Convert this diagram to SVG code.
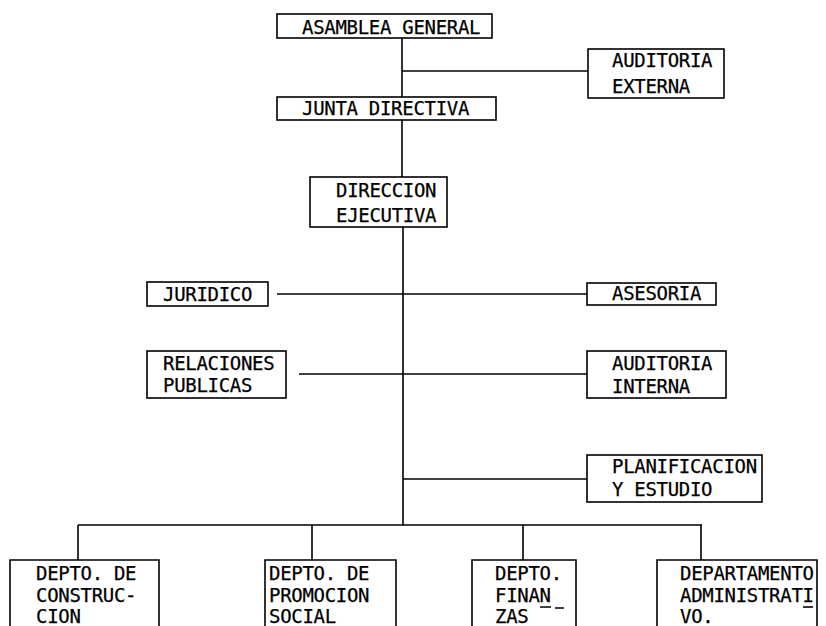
<svg xmlns="http://www.w3.org/2000/svg" width="826" height="626" viewBox="0 0 826 626">
<style>
.box{fill:none;stroke:#000;stroke-width:1.6}
.ln{fill:none;stroke:#000;stroke-width:1.6}
.t{font-family:"DejaVu Sans Mono","Liberation Mono",monospace;font-size:19px;letter-spacing:-0.3px;fill:#000;stroke:#000;stroke-width:0.25}
</style>
<rect width="826" height="626" fill="#fff"/>
<g id="connectors">
<path class="ln" d="M402,38V97M402,71H588M402,120V177M403,227V525M277,294H587M299,374H587M403,479H587M78,525H702M78,525V560M312,525V560M523,525V560M701,525V560"/>
</g>
<g id="asamblea"><rect class="box" x="277" y="14" width="215" height="24"/><text class="t" x="302" y="34">ASAMBLEA GENERAL</text></g>
<g id="auditoria-externa"><rect class="box" x="588" y="49" width="136" height="49"/><text class="t" x="612" y="67">AUDITORIA</text><text class="t" x="612" y="93">EXTERNA</text></g>
<g id="junta"><rect class="box" x="277" y="97" width="219" height="23"/><text class="t" x="302" y="115">JUNTA DIRECTIVA</text></g>
<g id="direccion"><rect class="box" x="310" y="177" width="137" height="50"/><text class="t" x="336" y="197">DIRECCION</text><text class="t" x="336" y="222">EJECUTIVA</text></g>
<g id="juridico"><rect class="box" x="147" y="282" width="121" height="24"/><text class="t" x="163" y="301">JURIDICO</text></g>
<g id="asesoria"><rect class="box" x="587" y="283" width="129" height="22"/><text class="t" x="612" y="300">ASESORIA</text></g>
<g id="relaciones"><rect class="box" x="147" y="351" width="139" height="47"/><text class="t" x="163" y="370">RELACIONES</text><text class="t" x="163" y="392">PUBLICAS</text></g>
<g id="auditoria-interna"><rect class="box" x="587" y="351" width="139" height="47"/><text class="t" x="612" y="370">AUDITORIA</text><text class="t" x="612" y="393">INTERNA</text></g>
<g id="planificacion"><rect class="box" x="587" y="455" width="175" height="47"/><text class="t" x="612" y="473">PLANIFICACION</text><text class="t" x="612" y="496">Y ESTUDIO</text></g>
<g id="construccion"><path class="box" d="M10,627V560H159V627"/><text class="t" x="36" y="580">DEPTO. DE</text><text class="t" x="36" y="602">CONSTRUC-</text><text class="t" x="36" y="623">CION</text></g>
<g id="promocion"><path class="box" d="M265,627V560H396V627"/><text class="t" x="269" y="580">DEPTO. DE</text><text class="t" x="269" y="602">PROMOCION</text><text class="t" x="269" y="623">SOCIAL</text></g>
<g id="finanzas"><path class="box" d="M472,627V560H576V627"/><text class="t" x="495" y="580">DEPTO.</text><text class="t" x="495" y="602">FINAN</text><text class="t" x="495" y="623">ZAS</text><path class="ln" d="M540,607H551M555,608H564"/></g>
<g id="administrativo"><path class="box" d="M657,627V560H817V627"/><text class="t" x="680" y="580">DEPARTAMENTO</text><text class="t" x="680" y="602">ADMINISTRATI</text><text class="t" x="680" y="623">VO.</text><path class="ln" d="M803,607H813"/></g>
</svg>
